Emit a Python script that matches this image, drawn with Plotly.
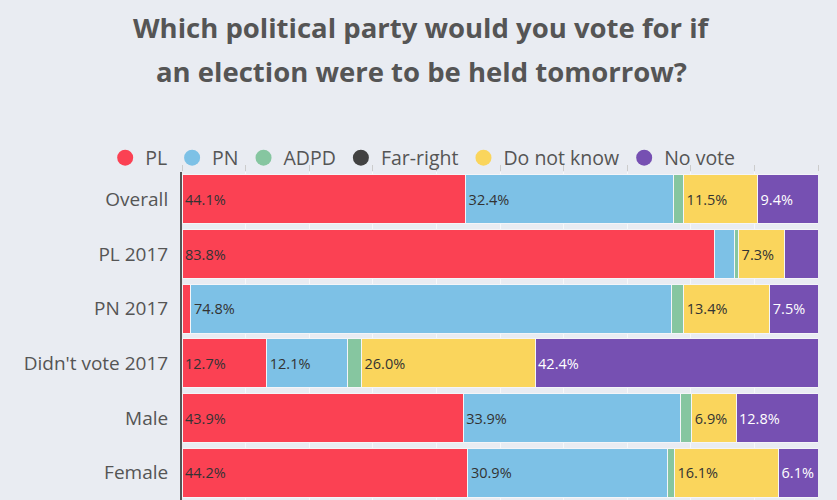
import plotly.graph_objects as go

categories = ["Overall", "PL 2017", "PN 2017", "Didn't vote 2017", "Male", "Female"]
series_names = ["PL", "PN", "ADPD", "Far-right", "Do not know", "No vote"]
pl = [44.1, 83.8, 1.4, 12.7, 43.9, 44.2]
pn = [32.4, 3.2, 74.8, 12.1, 33.9, 30.9]
adpd = [1.5, 0.6, 1.9, 2.1, 1.8, 1.0]
far_right = [0, 0, 0, 0, 0, 0]
do_not_know = [11.5, 7.3, 13.4, 26.0, 6.9, 16.1]
no_vote = [9.4, 5.2, 7.5, 42.4, 12.8, 6.1]

colors = ["#FB4153", "#7DC1E6", "#86C6A0", "#424242", "#FAD55C", "#7650B2"]
text_colors = ["#333333", "#333333", "#333333", "#ffffff", "#333333", "#ffffff"]
min_label = 6
FONT = "Open Sans, Lato, sans-serif"
BG = "#E9ECF2"

values = [pl, pn, adpd, far_right, do_not_know, no_vote]

fig = go.Figure()
for name, vals, col, tcol in zip(series_names, values, colors, text_colors):
    labels = [f"{v:.1f}%" if v >= min_label else "" for v in vals]
    fig.add_trace(go.Bar(
        y=categories, x=vals, orientation="h", name=name,
        marker=dict(color=col, line=dict(color="#F4F5F8", width=1)),
        text=labels, texttemplate="%{text}", textposition="inside",
        insidetextanchor="start", textangle=0, constraintext="none",
        textfont=dict(family=FONT, size=14.5, color=tcol),
        showlegend=False, hoverinfo="skip",
    ))
    fig.add_trace(go.Scatter(
        x=[None], y=[None], mode="markers", name=name,
        marker=dict(color=col, size=20, symbol="circle"),
        showlegend=True,
    ))

fig.update_layout(
    width=837, height=500,
    barmode="stack", barnorm="percent", bargap=0.1,
    paper_bgcolor=BG, plot_bgcolor=BG,
    margin=dict(l=182, r=19, t=172, b=0, autoexpand=False),
    font=dict(family=FONT, color="#555555"),
    legend=dict(orientation="h", xref="container", yref="container",
                x=0.505, xanchor="center", y=0.684, yanchor="middle",
                font=dict(family=FONT, size=19.5, color="#555555"),
                itemsizing="trace", bgcolor="rgba(0,0,0,0)", traceorder="normal"),
    xaxis=dict(range=[0, 100], dtick=10, side="top", showticklabels=False,
               ticks="outside", ticklen=6, tickcolor="#CCCCCC",
               showgrid=True, gridcolor="#F7F8FA", gridwidth=1,
               zeroline=False, fixedrange=True, automargin=False),
    yaxis=dict(autorange="reversed", showline=True, linecolor="#555555",
               linewidth=2, ticks="", ticklabelstandoff=8, automargin=False,
               tickfont=dict(family=FONT, size=19, color="#555555"),
               showgrid=False),
    annotations=[
        dict(text="<b>Which political party would you vote for if</b>",
             xref="paper", yref="paper", x=0.377, y=1.442,
             xanchor="center", yanchor="middle", showarrow=False,
             font=dict(family=FONT, size=27.5, color="#555555")),
        dict(text="<b>an election were to be held tomorrow?</b>",
             xref="paper", yref="paper", x=0.377, y=1.305,
             xanchor="center", yanchor="middle", showarrow=False,
             font=dict(family=FONT, size=27.5, color="#555555")),
    ],
)

fig.write_html("out.html", config={"displayModeBar": False},
               post_script="document.body.style.margin='0px';")
